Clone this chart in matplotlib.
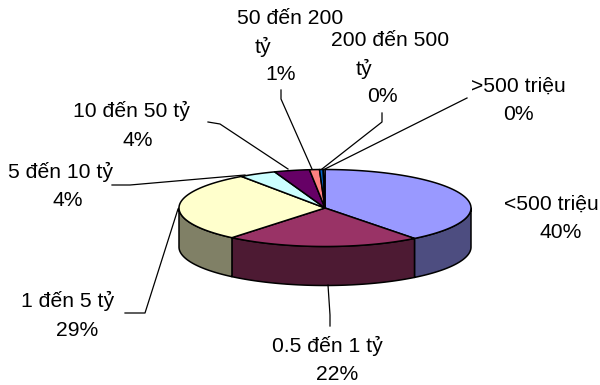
import numpy as np
import matplotlib
matplotlib.use("Agg")
import matplotlib.pyplot as plt

plt.rcParams['font.family'] = ['Liberation Sans', 'DejaVu Sans']

# ---------------------------
# Data
# ---------------------------

categories = ["<500 triệu", "0.5 đến 1 tỷ", "1 đến 5 tỷ", "5 đến 10 tỷ",
              "10 đến 50 tỷ", "50 đến 200 tỷ", "200 đến 500 tỷ", ">500 triệu"]
values = [39.5, 21.5, 29.3, 4.1, 3.9, 1.1, 0.4, 0.2]
top_colors = ["#9999FF", "#993366", "#FFFFCC", "#CCFFFF",
              "#660066", "#FF8080", "#0066CC", "#CCCCFF"]
side_colors = ["#4D4D80", "#4D1A33", "#808066", "#668080",
               "#330033", "#804040", "#003366", "#666680"]

# ---------------------------
# Layout (pixels)
# ---------------------------

cx, cy = 325, 208
rx, ry = 146, 38.5
depth = 39

# wrapped label lines: text, x centre, y centre
name_lines = [
    [("<500 triệu", 551, 204)],
    [("0.5 đến 1 tỷ", 327, 346)],
    [("1 đến 5 tỷ", 68, 301)],
    [("5 đến 10 tỷ", 60, 172)],
    [("10 đến 50 tỷ", 131, 111)],
    [("50 đến 200", 290, 18), ("tỷ", 263, 47)],
    [("200 đến 500", 390, 40), ("tỷ", 364, 69)],
    [(">500 triệu", 518, 86)],
]
pct_pos = [(561, 233), (337, 375), (77, 331), (68, 201),
           (138, 140), (281, 75), (382, 97), (518, 115)]
leaders = [
    None,
    [(330, 326), (330, 315), (328, 285)],
    [(125, 313), (145, 313), (178, 209)],
    [(112, 185), (130, 185), (245, 175)],
    [(208, 122), (220, 124), (288, 169)],
    [(281, 90), (281, 99), (312, 169)],
    [(382, 113), (382, 122), (322, 169)],
    [(467, 98), (325, 169)],
]


def arc(a, b, shift=0):
    t = np.radians(np.linspace(a, b, max(int(abs(b - a) * 2), 2)))
    return cx + rx * np.sin(t), cy - ry * np.cos(t) + shift


fig = plt.figure(figsize=(6, 3.85), dpi=100)
ax = fig.add_axes([0, 0, 1, 1])
ax.set_xlim(0, 600)
ax.set_ylim(385, 0)
ax.axis("off")

edges = np.concatenate([[0], np.cumsum(values)]) / sum(values) * 360

# ---------------------------
# Rim, only the near half shows
# ---------------------------

for i in range(len(values)):
    a, b = max(edges[i], 90), min(edges[i + 1], 270)
    if a >= b:
        continue
    x1, y1 = arc(a, b)
    x2, y2 = arc(b, a, depth)
    ax.fill(np.r_[x1, x2], np.r_[y1, y2], facecolor=side_colors[i],
            edgecolor="black", linewidth=1.1, joinstyle="round", zorder=1)

# ---------------------------
# Top face
# ---------------------------

for i in range(len(values)):
    x1, y1 = arc(edges[i], edges[i + 1])
    ax.fill(np.r_[cx, x1], np.r_[cy, y1], facecolor=top_colors[i],
            edgecolor="black", linewidth=1.1, joinstyle="round", zorder=2)

# ---------------------------
# Leader lines and labels
# ---------------------------

for pts in leaders:
    if pts is None:
        continue
    xs, ys = zip(*pts)
    ax.plot(xs, ys, color="black", linewidth=0.9, zorder=3)

for lines, pos, v in zip(name_lines, pct_pos, values):
    for text, x, y in lines:
        ax.text(x, y, text, ha="center", va="center", fontsize=15.2)
    ax.text(pos[0], pos[1], f"{v / sum(values) * 100:.0f}%",
            ha="center", va="center", fontsize=15.2)

fig.savefig("out.png", dpi=100)
